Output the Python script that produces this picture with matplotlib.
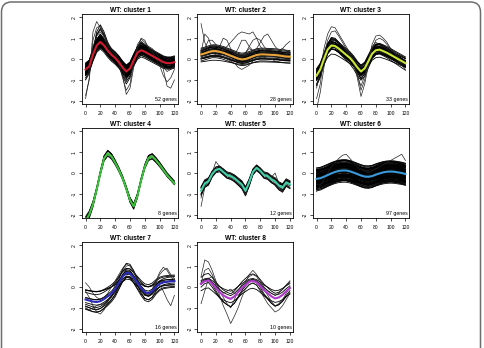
import matplotlib
matplotlib.use("Agg")
import matplotlib.pyplot as plt
from matplotlib.patches import FancyBboxPatch

plt.rcParams['font.family'] = ['Liberation Sans', 'DejaVu Sans']
plt.rcParams['axes.unicode_minus'] = False

# time points (min)
T = [0, 5, 10, 15, 20, 25, 30, 35, 40, 45, 50, 55, 60, 65, 70, 75, 80, 85, 90, 95, 100, 105, 110, 115, 120]

titles = ["WT: cluster 1", "WT: cluster 2", "WT: cluster 3", "WT: cluster 4",
          "WT: cluster 5", "WT: cluster 6", "WT: cluster 7", "WT: cluster 8"]
gene_counts = [52, 28, 33, 8, 12, 97, 16, 10]
mean_colors = ["#D01C30", "#E8A33A", "#C8E632", "#3CC23C",
               "#40D0A8", "#3A9AD9", "#2B2BB8", "#B03ACB"]

# cluster mean profiles (coloured lines)
c1_mean = [-0.5, -0.35, 0.2, 0.65, 0.82, 0.65, 0.4, 0.2, 0.05, -0.15, -0.4, -0.6, -0.45,
           -0.05, 0.3, 0.42, 0.35, 0.25, 0.15, 0.05, -0.05, -0.15, -0.2, -0.2, -0.15]
c2_mean = [0.22, 0.27, 0.33, 0.38, 0.38, 0.35, 0.3, 0.23, 0.16, 0.09, 0.02, -0.02, 0.0,
           0.06, 0.13, 0.19, 0.22, 0.22, 0.21, 0.2, 0.19, 0.17, 0.14, 0.12, 0.11]
c3_mean = [-0.8, -0.5, 0.0, 0.45, 0.65, 0.62, 0.5, 0.35, 0.2, 0.05, -0.15, -0.4, -0.6,
           -0.45, -0.1, 0.25, 0.42, 0.45, 0.38, 0.3, 0.2, 0.1, 0.0, -0.1, -0.2]
c4_mean = [-2.3, -2.0, -1.5, -0.8, 0.0, 0.7, 0.95, 0.8, 0.5, 0.15, -0.25, -0.75, -1.3,
           -1.6, -1.1, -0.35, 0.3, 0.72, 0.8, 0.62, 0.4, 0.15, -0.1, -0.3, -0.5]
c5_mean = [-0.85, -0.5, -0.4, -0.05, 0.15, 0.2, 0.05, -0.1, -0.15, -0.25, -0.4, -0.55, -0.85,
           -0.45, 0.05, 0.25, 0.1, -0.1, -0.15, -0.3, -0.4, -0.6, -0.7, -0.45, -0.55]
c6_mean = [-0.28, -0.25, -0.18, -0.1, -0.02, 0.05, 0.1, 0.12, 0.12, 0.08, 0.02, -0.05, -0.12,
           -0.17, -0.18, -0.15, -0.08, -0.02, 0.03, 0.06, 0.07, 0.06, 0.03, 0.0, -0.05]
c7_mean = [-0.6, -0.65, -0.7, -0.72, -0.68, -0.58, -0.45, -0.3, -0.1, 0.2, 0.5, 0.68, 0.65,
           0.45, 0.2, -0.05, -0.25, -0.3, -0.2, 0.0, 0.15, 0.22, 0.25, 0.27, 0.28]
c8_mean = [0.15, 0.28, 0.32, 0.15, -0.05, -0.25, -0.4, -0.5, -0.57, -0.45, -0.25, -0.05, 0.1,
           0.25, 0.3, 0.22, 0.05, -0.15, -0.3, -0.45, -0.55, -0.5, -0.38, -0.2, -0.05]

c1_amp = [1.0, 0.9, 1.1, 1.2, 0.8, 1.0, 1.05, 0.95, 1.15, 0.85, 1.3, 1.0, 0.9, 1.1, 1.25,
          0.75, 1.0, 1.4, 0.95, 1.05, 1.6, 1.8, 0.7, 1.2, 1.0, 0.9, 1.1, 1.5, 2.0, 1.0,
          1.12, 0.88, 1.02, 0.97, 1.35, 0.8, 1.0, 1.08, 0.92, 1.18, 0.82, 1.0, 1.04, 0.96,
          1.22, 0.78, 1.0]
c1_off = [0.0, 0.1, -0.1, 0.05, -0.05, 0.15, -0.15, 0.2, -0.2, 0.0, 0.05, -0.25, 0.25, 0.1,
          -0.1, 0.0, 0.3, 0.05, -0.3, 0.12, 0.1, 0.0, -0.05, -0.12, 0.08, -0.08, 0.18, -0.05,
          0.0, -0.18, 0.03, -0.02, 0.22, -0.22, 0.0, 0.07, 0.04, -0.04, 0.13, -0.13, 0.16,
          -0.16, 0.09, -0.09, 0.01, -0.01, 0.26]
c2_amp = [1.0, 0.8, 1.2, 0.6, 1.4, 1.0, 0.9, 1.1, 0.7, 1.3, 1.0, 0.5, 1.5, 0.9, 1.1, 1.0,
          0.8, 1.2, 1.0, 0.95, 1.05, 0.85, 1.0, 0.9]
c2_off = [0.0, 0.1, -0.1, 0.05, -0.05, 0.2, -0.2, 0.15, -0.15, 0.0, 0.25, -0.25, 0.05,
          -0.08, 0.08, 0.12, -0.12, 0.0, 0.3, -0.3, 0.02, -0.02, 0.18, -0.18]
c3_amp = [1.0, 0.9, 1.1, 1.2, 0.8, 1.3, 1.0, 0.95, 1.05, 1.15, 0.85, 1.4, 1.0, 0.75, 1.25,
          1.1, 0.9, 1.0, 1.6, 1.2, 0.95, 1.05, 1.3, 0.8, 1.0, 1.1, 0.9, 1.0, 1.08, 0.92]
c3_off = [0.0, 0.1, -0.1, 0.05, -0.05, 0.15, -0.15, 0.2, -0.2, 0.0, 0.08, -0.08, 0.25,
          -0.25, 0.0, 0.12, -0.12, 0.3, 0.0, -0.3, 0.05, -0.05, 0.1, 0.18, -0.18, 0.02, -0.02,
          0.13, -0.13, 0.07]
c4_amp = [1.0, 0.97, 1.03, 1.06, 0.94, 1.1, 0.9, 1.0]
c4_off = [0.0, 0.05, -0.05, 0.08, -0.08, 0.02, -0.02, 0.12]
c5_amp = [1.0, 0.9, 1.1, 1.2, 0.8, 1.0, 1.15, 0.85, 1.05, 0.95]
c5_off = [0.0, 0.08, -0.08, 0.04, -0.04, 0.12, -0.12, 0.02, -0.15, 0.15]
c6_amp = [1.0, 0.8, 1.2, 0.6, 1.4, 1.0, 0.9, 1.1, 0.7, 1.3, 1.0, 0.5, 1.5, 0.9, 1.1, 1.0,
          0.8, 1.2, 1.0, 0.95, 1.05, 0.85, 1.6, 0.4, 1.0, 1.25, 0.75, 1.15, 0.9, 1.0,
          1.1, 0.7, 1.3, 0.6, 1.4, 1.0, 0.8, 1.2, 1.0, 0.9, 1.0, 1.2, 0.8, 1.1, 0.9,
          1.3, 0.7, 1.0, 1.5, 0.5, 1.0, 1.1, 0.9, 1.2, 0.8, 1.0, 1.4, 0.6, 1.05, 0.95,
          1.0, 1.2, 0.8, 1.1, 0.9, 1.3, 0.7, 1.0, 1.15, 0.85]
c6_off = [0.0, 0.05, -0.05, 0.1, -0.1, 0.15, -0.15, 0.2, -0.2, 0.25, -0.25, 0.3, -0.3,
          0.35, -0.35, 0.4, -0.4, 0.45, -0.45, 0.5, -0.5, 0.02, -0.02, 0.07, -0.07, 0.12,
          -0.12, 0.17, -0.17, 0.22, -0.22, 0.27, -0.27, 0.32, -0.32, 0.37, -0.37, 0.42,
          -0.42, -0.55, 0.03, -0.03, 0.08, -0.08, 0.13, -0.13, 0.18, -0.18, 0.23, -0.23,
          0.28, -0.28, 0.33, -0.33, 0.38, -0.38, 0.43, -0.43, 0.48, -0.48, 0.52, -0.52,
          0.01, -0.01, 0.11, -0.11, 0.21, -0.21, 0.31, -0.31]
c7_amp = [1.0, 0.6, 1.4, 0.8, 1.2, 1.0, 0.7, 1.6, 0.9, 1.1, 1.3, 0.5, 1.0]
c7_off = [0.0, 0.2, -0.2, 0.35, -0.35, 0.1, -0.1, 0.05, 0.28, -0.28, -0.05, 0.15, -0.15]
c8_amp = [1.0, 0.7, 1.3, 0.9, 1.5, 1.1, 0.8]
c8_off = [0.0, 0.2, -0.2, 0.1, -0.1, 0.3, -0.3]

# individual outlying gene profiles
c1_odd = [
    [-1.9, -0.9, 1.3, 1.8, 1.5, 1.0, 0.6, 0.3, 0.1, -0.3, -0.9, -1.5, -1.2, -0.2, 0.7,
     0.95, 0.8, 0.6, 0.4, 0.1, -0.1, -0.4, -0.6, -0.5, -0.3],
    [-1.75, -1.0, 0.9, 1.5, 1.6, 1.2, 0.7, 0.4, 0.2, -0.2, -0.8, -1.7, -1.4, -0.4, 0.5,
     1.0, 0.9, 0.5, 0.3, 0.0, -0.3, -0.8, -1.1, -0.9, -0.5],
    [-1.0, -0.5, 0.6, 1.1, 1.3, 1.1, 0.8, 0.5, 0.3, 0.0, -0.5, -1.0, -0.9, -0.2, 0.5,
     0.8, 0.7, 0.6, 0.5, 0.3, 0.0, -0.5, -1.3, -1.4, -1.0],
]
c2_odd = [
    [1.7, 0.8, 0.4, 0.3, 0.2, 0.2, 0.3, 0.2, 0.1, 0.1, 0.0, 0.1, 0.2, 0.3, 0.3, 0.2, 0.3,
     0.3, 0.2, 0.2, 0.3, 0.2, 0.2, 0.1, 0.1],
    [0.3, 1.2, 1.0, 0.5, 0.3, 0.6, 1.0, 0.9, 0.5, 0.3, 0.1, 0.1, 0.3, 0.5, 0.4, 0.2, 0.2,
     0.3, 0.5, 0.4, 0.3, 0.2, 0.2, 0.2, 0.3],
    [0.0, 0.1, 0.3, 0.5, 0.6, 0.6, 0.5, 0.6, 0.8, 1.0, 1.2, 1.3, 1.25, 1.2, 1.3, 1.0, 0.6,
     0.4, 0.3, 0.2, 0.1, 0.1, 0.2, 0.3, 0.3],
    [0.2, 0.3, 0.4, 0.5, 0.4, 0.3, 0.3, 0.2, 0.1, 0.2, 0.5, 0.9, 0.9, 0.6, 0.4, 0.5, 0.8,
     1.1, 1.2, 0.9, 0.6, 0.4, 0.5, 0.7, 0.85],
    [0.1, 0.2, 0.2, 0.3, 0.3, 0.2, 0.1, 0.0, -0.1, -0.2, -0.4, -0.5, -0.4, -0.3, -0.1, 0.0,
     0.1, 0.1, 0.0, 0.0, -0.1, -0.1, 0.0, 0.0, 0.0],
    [0.3, 0.5, 0.9, 0.9, 0.7, 0.5, 0.4, 0.5, 0.4, 0.3, 0.2, 0.2, 0.3, 0.6, 0.9, 1.0, 0.9,
     0.6, 0.4, 0.3, 0.3, 0.4, 0.5, 0.4, 0.3],
]
c3_odd = [
    [-1.4, -0.6, 0.5, 1.2, 1.55, 1.5, 1.2, 0.9, 0.6, 0.3, -0.1, -0.7, -1.5, -1.0, -0.1,
     0.7, 1.1, 1.15, 1.0, 0.8, 0.5, 0.3, 0.1, -0.1, -0.2],
    [-1.9, -1.2, 0.2, 0.9, 1.3, 1.35, 1.1, 0.8, 0.5, 0.2, -0.2, -0.9, -1.8, -1.2, -0.3,
     0.5, 0.9, 1.0, 0.9, 0.7, 0.5, 0.3, 0.0, -0.3, -0.5],
    [-2.4, -1.6, -0.4, 0.5, 0.9, 1.0, 0.8, 0.6, 0.4, 0.1, -0.3, -0.8, -1.3, -0.8, 0.0,
     0.6, 0.8, 0.7, 0.6, 0.5, 0.3, 0.1, -0.1, -0.2, -0.3],
]
c4_odd = []
c5_odd = [
    [-1.6, -0.7, -0.3, 0.0, 0.55, 0.3, 0.1, -0.1, -0.2, -0.3, -0.5, -0.6, -1.1, -0.5, 0.1,
     0.3, 0.1, -0.1, -0.2, -0.2, 0.0, -0.5, -0.9, -0.5, -0.4],
    [-1.2, -0.4, -0.5, 0.1, 0.2, 0.1, 0.2, 0.0, -0.3, -0.2, -0.3, -0.7, -1.0, -0.3, 0.0,
     0.2, 0.2, 0.0, -0.3, -0.4, -0.6, -0.8, -0.7, -0.4, -0.6],
]
c6_odd = [
    [-0.9, -0.6, -0.3, 0.0, 0.3, 0.5, 0.7, 0.85, 0.9, 0.7, 0.5, 0.3, 0.2, 0.1, 0.0, 0.1,
     0.2, 0.3, 0.4, 0.5, 0.6, 0.7, 0.8, 0.9, 0.6],
]
c7_odd = [
    [-0.2, -0.5, -0.9, -1.2, -1.3, -1.1, -0.7, -0.3, 0.1, 0.5, 0.8, 1.0, 1.05, 0.8, 0.4,
     0.0, -0.3, -0.4, -0.2, 0.2, 0.6, 0.8, 0.9, 0.6, 0.4],
    [-1.0, -1.1, -1.0, -0.9, -0.85, -0.8, -0.7, -0.5, -0.2, 0.2, 0.5, 0.7, 0.7, 0.5, 0.2,
     -0.1, -0.3, -0.35, -0.2, 0.0, 0.1, -0.2, -0.6, -0.9, -0.4],
    [0.2, 0.0, -0.3, -0.5, -0.6, -0.5, -0.3, 0.0, 0.3, 0.6, 0.9, 1.1, 1.0, 0.7, 0.3, 0.0,
     -0.2, -0.3, -0.1, 0.3, 0.7, 0.95, 0.8, 0.5, 0.3],
]
c8_odd = [
    [0.5, 1.3, 1.2, 0.8, 0.3, -0.2, -0.5, -0.8, -1.0, -0.6, -0.2, 0.1, 0.3, 0.5, 0.6, 0.5,
     0.2, -0.1, -0.4, -0.7, -0.9, -0.8, -0.6, -0.3, 0.0],
    [-0.8, -0.2, 0.4, 0.5, 0.1, -0.4, -0.9, -1.3, -1.75, -1.4, -1.0, -0.5, -0.1, 0.1, 0.2,
     0.1, -0.2, -0.5, -0.8, -1.0, -1.2, -1.1, -0.9, -0.6, -0.3],
    [0.2, 0.8, 0.9, 0.6, 0.2, -0.1, -0.3, -0.2, -0.1, -0.3, -0.4, -0.2, 0.2, 0.6, 0.8, 0.6,
     0.3, 0.0, -0.2, -0.3, -0.4, -0.3, -0.1, 0.1, 0.3],
]

means = [c1_mean, c2_mean, c3_mean, c4_mean, c5_mean, c6_mean, c7_mean, c8_mean]
amps = [c1_amp, c2_amp, c3_amp, c4_amp, c5_amp, c6_amp, c7_amp, c8_amp]
offs = [c1_off, c2_off, c3_off, c4_off, c5_off, c6_off, c7_off, c8_off]
odds = [c1_odd, c2_odd, c3_odd, c4_odd, c5_odd, c6_odd, c7_odd, c8_odd]

W, H = 485, 348
fig = plt.figure(figsize=(W / 100, H / 100), dpi=100)

# rounded frame, open at the bottom
frame = FancyBboxPatch((0.015, -0.3), 4.79, 3.76, boxstyle="round,pad=0,rounding_size=0.1",
                       transform=fig.dpi_scale_trans, fill=False, ec="#6e6e6e", lw=1.1)
fig.patches.append(frame)

col_left = [82, 197.5, 313]
row_top = [14, 128, 242]
bw, bh = 96, 90

for i in range(8):
    r, c = divmod(i, 3)
    ax = fig.add_axes([col_left[c] / W, 1 - (row_top[r] + bh) / H, bw / W, bh / H])
    m = means[i]
    for a, o in zip(amps[i], offs[i]):
        ax.plot(T, [a * v + o for v in m], color="black", lw=0.6)
    for g in odds[i]:
        ax.plot(T, g, color="#222222", lw=0.5)
    ax.plot(T, m, color=mean_colors[i], lw=1.5)

    ax.set_xlim(-4.8, 124.8)
    ax.set_ylim(-2.16, 2.16)
    ax.set_xticks([0, 20, 40, 60, 80, 100, 120])
    ax.set_yticks([-2, -1, 0, 1, 2])
    ax.tick_params(length=2.2, width=0.5, labelsize=3.6, pad=2.5)
    ax.tick_params(axis="y", labelrotation=90, pad=1.5)
    for lab in ax.get_yticklabels():
        lab.set_va("center")
    for s in ax.spines.values():
        s.set_linewidth(0.6)
    ax.set_title(titles[i], fontsize=4.8, fontweight="bold", pad=1.5)
    ax.text(0.985, 0.025, f"{gene_counts[i]} genes", transform=ax.transAxes,
            ha="right", va="bottom", fontsize=3.8)

fig.savefig("out.png", dpi=100)
